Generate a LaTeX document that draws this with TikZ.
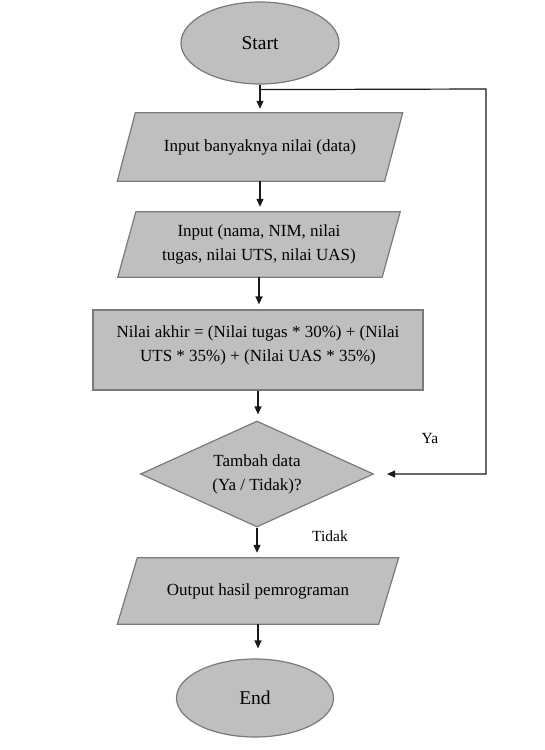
\documentclass[tikz,border=0pt]{standalone}
\usepackage{fontspec}
\setmainfont{Liberation Serif}
\usetikzlibrary{shapes.geometric,arrows.meta,calc,backgrounds}
\definecolor{shapefill}{HTML}{BFBFBF}
\definecolor{shapeedge}{HTML}{7A7A7A}
\begin{document}
\begin{tikzpicture}[x=1pt,y=-1pt,
  txt/.style={font=\fontsize{17}{24}\selectfont, align=center, text=black},
  term/.style={ellipse, draw=shapeedge, fill=shapefill, line width=1.2pt, inner sep=0pt, font=\fontsize{19.5}{24}\selectfont},
  iobox/.style={txt, draw=none, inner sep=0pt},
  shapeline/.style={draw=shapeedge, fill=shapefill, line width=1.2pt},
  procbox/.style={rectangle, draw=shapeedge, fill=shapefill, line width=1.2pt},
  decbox/.style={diamond, draw=shapeedge, fill=shapefill, line width=1.2pt, inner sep=0pt, aspect=2.2, txt},
  edge/.style={line width=1.2pt, -{Triangle[length=8pt,width=7pt]}, draw=black!90},
  lbl/.style={font=\fontsize{15.5}{18}\selectfont}
]
\useasboundingbox (0,0) rectangle (544,750);

\node[term, minimum width=158pt, minimum height=82pt] (start) at (260,43) {Start};
\node[iobox, minimum width=267pt, minimum height=68pt] (in1) at (260,147) {Input banyaknya nilai (data)};
\node[iobox, minimum width=264pt, minimum height=65pt] (in2) at (259,244.5) {Input (nama, NIM, nilai\\tugas, nilai UTS, nilai UAS)};
\node[procbox, minimum width=330pt, minimum height=80pt] (calc) at (258,350) {};
\node[txt] (calctext) at (258,345) {Nilai akhir = (Nilai tugas * 30\%) + (Nilai\\UTS * 35\%) + (Nilai UAS * 35\%)};
\node[decbox, minimum width=233pt, minimum height=106pt] (dec) at (257,474) {Tambah data\\(Ya / Tidak)?};
\node[iobox, minimum width=261pt, minimum height=66pt] (out) at (258,591) {Output hasil pemrograman};
\node[term, minimum width=157pt, minimum height=78pt] (end) at (255,698) {End};

\begin{pgfonlayer}{background}
\fill[white] (0,0) rectangle (544,750);
\foreach \n/\s in {in1/9, in2/9, out/10}
  \draw[shapeline] ($(\n.north west)+(\s,0)$) -- ($(\n.north east)+(\s,0)$) -- ($(\n.south east)-(\s,0)$) -- ($(\n.south west)-(\s,0)$) -- cycle;
\end{pgfonlayer}

\coordinate (junc) at ($(start.south)+(0,5)$);
\coordinate (corner) at (486,89);

\draw[edge, shorten >=4pt] (start.south) -- (in1.north);
\draw[edge, shorten >=5pt] (in1.south) -- (in1.south |- in2.north);
\draw[edge, shorten >=5pt] (in2.south) -- (in2.south |- calc.north);
\draw[edge, shorten >=6pt] (calc.south) -- (calc.south |- dec.north);
\draw[edge, shorten >=5pt] (dec.south) -- (dec.south |- out.north);
\draw[edge, shorten >=10pt] (out.south) -- (out.south |- end.north);
\draw[edge, shorten >=13pt] (junc) -- (corner) |- (dec.east);

\node[lbl] (ya) at (430,438) {Ya};
\node[lbl] (tidak) at (330,536) {Tidak};
\end{tikzpicture}
\end{document}
